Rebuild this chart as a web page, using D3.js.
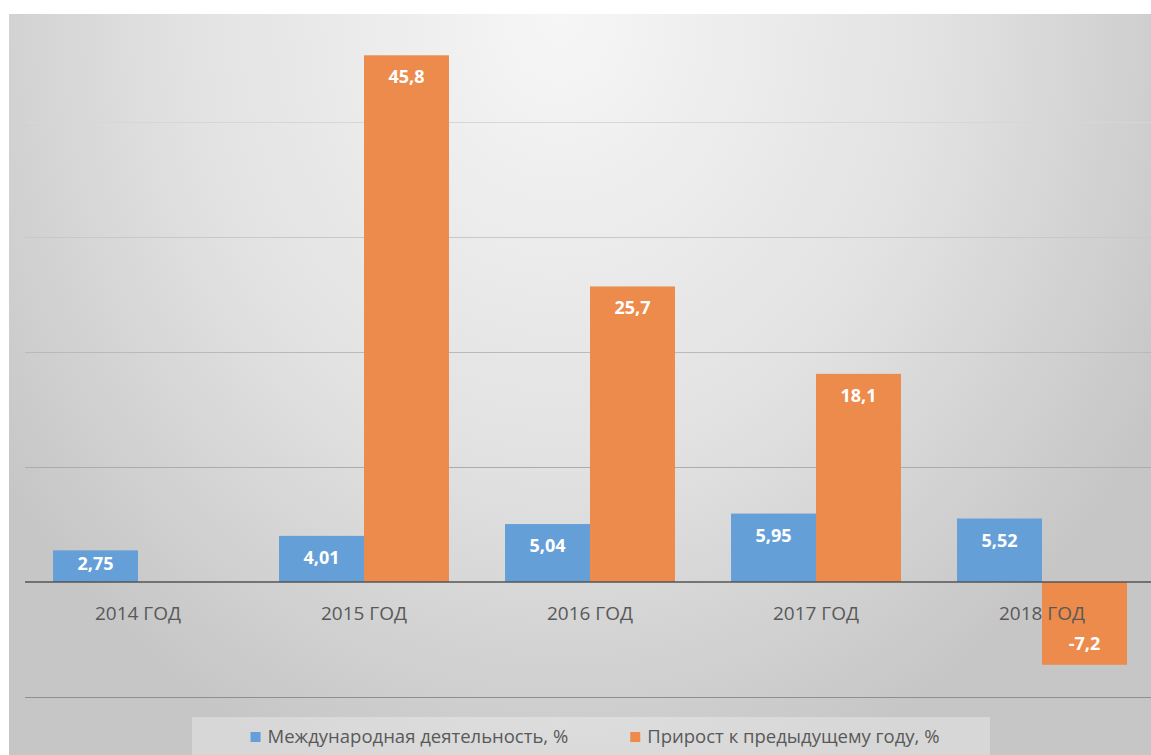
<!DOCTYPE html>
<html>
<head>
<meta charset="utf-8">
<script src="https://cdn.jsdelivr.net/npm/d3@7"></script>
<style>
  html, body { margin: 0; padding: 0; background: #ffffff; }
  svg { display: block; }
</style>
</head>
<body>
<svg id="chart" width="1151" height="755"></svg>
<script>
// Chart data
const categories = ["2014 ГОД", "2015 ГОД", "2016 ГОД", "2017 ГОД", "2018 ГОД"];
const intlActivity = [2.75, 4.01, 5.04, 5.95, 5.52];
const yearGrowth = [null, 45.8, 25.7, 18.1, -7.2];
const seriesNames = ["Международная деятельность, %", "Прирост к предыдущему году, %"];
const gridValues = [-10, 0, 10, 20, 30, 40];

const colors = ["#659fd8", "#ec8b4b"];
const W = 1151, H = 755;

const svg = d3.select("#chart");
const defs = svg.append("defs");

// Soft radial background
const bg = defs.append("radialGradient")
  .attr("id", "bgGrad")
  .attr("gradientUnits", "userSpaceOnUse")
  .attr("cx", 560).attr("cy", 20).attr("r", 760)
  .attr("gradientTransform", "translate(560,20) scale(0.9,1.05) translate(-560,-20)");
bg.append("stop").attr("offset", 0).attr("stop-color", "#f6f6f6");
bg.append("stop").attr("offset", 0.55).attr("stop-color", "#e2e2e2");
bg.append("stop").attr("offset", 1).attr("stop-color", "#c6c6c6");

// Gridlines get darker toward the bottom
const gg = defs.append("linearGradient")
  .attr("id", "gridGrad")
  .attr("gradientUnits", "userSpaceOnUse")
  .attr("x1", 0).attr("y1", 100).attr("x2", 0).attr("y2", 700);
gg.append("stop").attr("offset", 0).attr("stop-color", "#d9d9d9");
gg.append("stop").attr("offset", 1).attr("stop-color", "#8f8f8f");

svg.append("rect")
  .attr("x", 9).attr("y", 14)
  .attr("width", W - 9).attr("height", H - 14)
  .attr("fill", "url(#bgGrad)");

// Scales
const x0 = d3.scaleBand()
  .domain(categories)
  .range([25, 1155])
  .paddingInner(0.248)
  .paddingOuter(0.124);

const x1 = d3.scaleBand()
  .domain([0, 1])
  .range([0, x0.bandwidth()]);

const y = d3.scaleLinear()
  .domain([-10, 50])
  .range([697, 7]);

const fmt = d3.formatLocale({
  decimal: ",", thousands: " ", grouping: [3], currency: ["", ""], minus: "-"
}).format("~g");

// Gridlines
svg.append("g")
  .selectAll("line")
  .data(gridValues.filter(v => v !== 0))
  .join("line")
  .attr("x1", 25).attr("x2", W)
  .attr("y1", d => Math.round(y(d)) + 0.5)
  .attr("y2", d => Math.round(y(d)) + 0.5)
  .attr("stroke", "url(#gridGrad)")
  .attr("stroke-width", 1.2);

// Bars
const rows = categories.map((c, i) => ({
  cat: c,
  vals: [intlActivity[i], yearGrowth[i]]
}));

const groups = svg.append("g")
  .selectAll("g")
  .data(rows)
  .join("g")
  .attr("transform", d => `translate(${x0(d.cat)},0)`);

const cells = groups.selectAll("g.cell")
  .data(d => d.vals.map((v, s) => ({ v, s })).filter(e => e.v !== null))
  .join("g")
  .attr("class", "cell");

cells.append("rect")
  .attr("x", d => x1(d.s))
  .attr("width", x1.bandwidth())
  .attr("y", d => y(Math.max(0, d.v)))
  .attr("height", d => Math.abs(y(d.v) - y(0)))
  .attr("fill", d => colors[d.s]);

// Value labels inside bar ends
cells.append("text")
  .attr("x", d => x1(d.s) + x1.bandwidth() / 2)
  .attr("y", d => d.v >= 0
    ? Math.min(y(d.v) + 28, y(0) - 12)
    : y(d.v) - 15)
  .attr("text-anchor", "middle")
  .attr("font-family", "'Open Sans', sans-serif")
  .attr("font-weight", 700)
  .attr("font-size", 18)
  .attr("fill", "#ffffff")
  .text(d => fmt(d.v));

// Zero line
svg.append("line")
  .attr("x1", 25).attr("x2", W)
  .attr("y1", y(0)).attr("y2", y(0))
  .attr("stroke", "#555555")
  .attr("stroke-width", 1.6);

// Category labels
svg.append("g")
  .selectAll("text")
  .data(categories)
  .join("text")
  .attr("x", d => x0(d) + x0.bandwidth() / 2)
  .attr("y", 620)
  .attr("text-anchor", "middle")
  .attr("font-family", "'Open Sans', sans-serif")
  .attr("font-size", 19)
  .attr("fill", "#595959")
  .text(d => d);

// Legend
svg.append("rect")
  .attr("x", 192).attr("y", 717)
  .attr("width", 798).attr("height", H - 717)
  .attr("fill", "#ffffff").attr("fill-opacity", 0.3);

const legend = svg.append("g");
const items = legend.selectAll("g")
  .data(seriesNames)
  .join("g");
items.append("rect")
  .attr("width", 10).attr("height", 10)
  .attr("y", 732)
  .attr("fill", (d, i) => colors[i]);
items.append("text")
  .attr("x", 17).attr("y", 743)
  .attr("font-family", "'Open Sans', sans-serif")
  .attr("font-size", 18.5)
  .attr("fill", "#595959")
  .text(d => d);

const widths = [];
items.each(function () {
  widths.push(17 + d3.select(this).select("text").node().getComputedTextLength());
});
const gap = 62;
const total = d3.sum(widths) + gap * (widths.length - 1);
let cursor = 595 - total / 2;
items.attr("transform", (d, i) => {
  const t = `translate(${cursor},0)`;
  cursor += widths[i] + gap;
  return t;
});
</script>
</body>
</html>
